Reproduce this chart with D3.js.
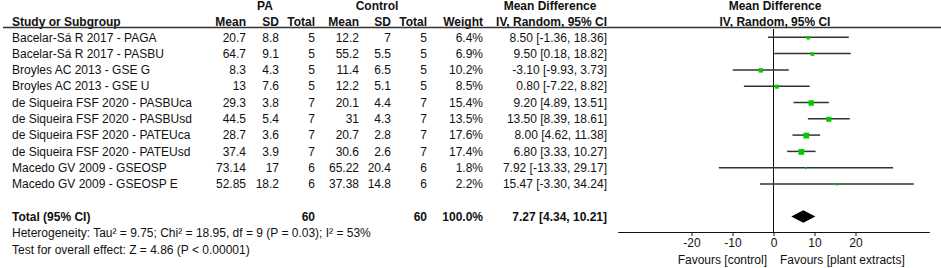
<!DOCTYPE html>
<html>
<head>
<meta charset="utf-8">
<script src="https://cdn.jsdelivr.net/npm/d3@7"></script>
<style>
  body { margin: 0; background: #fff; }
  svg text { font-family: "Liberation Sans", Arial, sans-serif; font-size: 12px; fill: #111; }
  .b { font-weight: bold; }
</style>
</head>
<body>
<div class="container"></div>
<script>
// chart size
const width = 941;
const height = 268;

// data
const studies = [
  "Bacelar-Sá R 2017 - PAGA",
  "Bacelar-Sá R 2017 - PASBU",
  "Broyles AC 2013 - GSE G",
  "Broyles AC 2013 - GSE U",
  "de Siqueira FSF 2020 - PASBUca",
  "de Siqueira FSF 2020 - PASBUsd",
  "de Siqueira FSF 2020 - PATEUca",
  "de Siqueira FSF 2020 - PATEUsd",
  "Macedo GV 2009 - GSEOSP",
  "Macedo GV 2009 - GSEOSP E"
];
const paMean = [20.7, 64.7, 8.3, 13, 29.3, 44.5, 28.7, 37.4, 73.14, 52.85];
const paSD = [8.8, 9.1, 4.3, 7.6, 3.8, 5.4, 3.6, 3.9, 17, 18.2];
const paN = [5, 5, 5, 5, 7, 7, 7, 7, 6, 6];
const ctlMean = [12.2, 55.2, 11.4, 12.2, 20.1, 31, 20.7, 30.6, 65.22, 37.38];
const ctlSD = [7, 5.5, 6.5, 5.1, 4.4, 4.3, 2.8, 2.6, 20.4, 14.8];
const ctlN = [5, 5, 5, 5, 7, 7, 7, 7, 6, 6];
const weight = [6.4, 6.9, 10.2, 8.5, 15.4, 13.5, 17.6, 17.4, 1.8, 2.2];
const md = [8.50, 9.50, -3.10, 0.80, 9.20, 13.50, 8.00, 6.80, 7.92, 15.47];
const ciLow = [-1.36, 0.18, -9.93, -7.22, 4.89, 8.39, 4.62, 3.33, -13.33, -3.30];
const ciHigh = [18.36, 18.82, 3.73, 8.82, 13.51, 18.61, 11.38, 10.27, 29.17, 34.24];
const totalN = [60, 60];
const totalWeight = 100.0;
const totalEffect = [7.27, 4.34, 10.21]; // estimate, low, high
const xTicks = [-20, -10, 0, 10, 20];
const heterogeneity = "Heterogeneity: Tau² = 9.75; Chi² = 18.95, df = 9 (P = 0.03); I² = 53%";
const overallTest = "Test for overall effect: Z = 4.86 (P < 0.00001)";

const svg = d3.select(".container")
  .append("svg")
  .attr("width", width)
  .attr("height", height)
  .style("display", "block");

svg.append("rect").attr("width", width).attr("height", height).attr("fill", "#fff");

// row positions
const yScale = d3.scalePoint()
  .domain(d3.range(studies.length))
  .range([37.3, 184]);
const yTotal = 216.5;
const base = 4.2; // shift from row centre to text baseline

// forest scale
const xScale = d3.scaleLinear()
  .domain([-38, 38])
  .range([617.7, 929.3]);
const axisY = 232;

// square size from weight
const sizeScale = d3.scaleSqrt()
  .domain([0, d3.max(weight)])
  .range([0, 5.8]);

// column right edges
const cols = [
  { x: 246, vals: paMean, head: "Mean" },
  { x: 279, vals: paSD, head: "SD" },
  { x: 315, vals: paN, head: "Total" },
  { x: 359, vals: ctlMean, head: "Mean" },
  { x: 391, vals: ctlSD, head: "SD" },
  { x: 427, vals: ctlN, head: "Total" },
  { x: 483, vals: weight.map(w => w.toFixed(1) + "%"), head: "Weight" },
  { x: 607, vals: md.map((d, i) => `${d.toFixed(2)} [${ciLow[i].toFixed(2)}, ${ciHigh[i].toFixed(2)}]`), head: "IV, Random, 95% CI" }
];

// top header line
svg.append("text").attr("class", "b").attr("x", 265).attr("y", 10).attr("text-anchor", "middle").text("PA");
svg.append("text").attr("class", "b").attr("x", 377).attr("y", 10).attr("text-anchor", "middle").text("Control");
svg.append("text").attr("class", "b").attr("x", 550).attr("y", 10).attr("text-anchor", "middle").text("Mean Difference");
svg.append("text").attr("class", "b").attr("x", 775).attr("y", 10).attr("text-anchor", "middle").text("Mean Difference");

// second header line
svg.append("text").attr("class", "b").attr("x", 12).attr("y", 26).text("Study or Subgroup");
cols.forEach(c => {
  svg.append("text").attr("class", "b").attr("x", c.x).attr("y", 26)
    .attr("text-anchor", "end").text(c.head);
});
svg.append("text").attr("class", "b").attr("x", 775).attr("y", 26).attr("text-anchor", "middle").text("IV, Random, 95% CI");

svg.append("line")
  .attr("x1", 3).attr("x2", width)
  .attr("y1", 27.5).attr("y2", 27.5)
  .attr("stroke", "#333").attr("stroke-width", 1.3);

// study rows
svg.append("g")
  .selectAll("text")
  .data(studies)
  .join("text")
  .attr("x", 12)
  .attr("y", (d, i) => yScale(i) + base)
  .text(d => d);

cols.forEach(c => {
  svg.append("g")
    .selectAll("text")
    .data(c.vals)
    .join("text")
    .attr("x", c.x)
    .attr("y", (d, i) => yScale(i) + base)
    .attr("text-anchor", "end")
    .text(d => d);
});

// total row
svg.append("text").attr("class", "b").attr("x", 12).attr("y", yTotal + base).text("Total (95% CI)");
svg.append("text").attr("class", "b").attr("x", cols[2].x).attr("y", yTotal + base).attr("text-anchor", "end").text(totalN[0]);
svg.append("text").attr("class", "b").attr("x", cols[5].x).attr("y", yTotal + base).attr("text-anchor", "end").text(totalN[1]);
svg.append("text").attr("class", "b").attr("x", cols[6].x).attr("y", yTotal + base).attr("text-anchor", "end")
  .text(totalWeight.toFixed(1) + "%");
svg.append("text").attr("class", "b").attr("x", cols[7].x).attr("y", yTotal + base).attr("text-anchor", "end")
  .text(`${totalEffect[0].toFixed(2)} [${totalEffect[1].toFixed(2)}, ${totalEffect[2].toFixed(2)}]`);

svg.append("text").attr("x", 12).attr("y", 233 + base).text(heterogeneity);
svg.append("text").attr("x", 12).attr("y", 250 + base).text(overallTest);

// zero line
svg.append("line")
  .attr("x1", xScale(0)).attr("x2", xScale(0))
  .attr("y1", 29).attr("y2", axisY)
  .attr("stroke", "#111").attr("stroke-width", 1);

// confidence intervals
svg.append("g")
  .selectAll("line")
  .data(md)
  .join("line")
  .attr("x1", (d, i) => xScale(ciLow[i]))
  .attr("x2", (d, i) => xScale(ciHigh[i]))
  .attr("y1", (d, i) => yScale(i))
  .attr("y2", (d, i) => yScale(i))
  .attr("stroke", "#333")
  .attr("stroke-width", 1.5);

// weight squares
svg.append("g")
  .selectAll("rect")
  .data(md)
  .join("rect")
  .attr("x", (d, i) => xScale(d) - sizeScale(weight[i]) / 2)
  .attr("y", (d, i) => yScale(i) - sizeScale(weight[i]) / 2 + 0.5)
  .attr("width", (d, i) => sizeScale(weight[i]))
  .attr("height", (d, i) => sizeScale(weight[i]))
  .attr("fill", "#00cc00");

// pooled diamond
const dh = 6.3;
svg.append("path")
  .attr("d", `M${xScale(totalEffect[1])},${yTotal} L${xScale(totalEffect[0])},${yTotal - dh} L${xScale(totalEffect[2])},${yTotal} L${xScale(totalEffect[0])},${yTotal + dh} Z`)
  .attr("fill", "#000");

// x axis
const xAxis = d3.axisBottom(xScale)
  .tickValues(xTicks)
  .tickFormat(d => String(d))
  .tickSize(4)
  .tickPadding(2)
  .tickSizeOuter(0);

const axisG = svg.append("g")
  .attr("transform", `translate(0, ${axisY})`)
  .call(xAxis);
axisG.select(".domain").attr("stroke", "#111").attr("stroke-width", 1);
axisG.selectAll(".tick line").attr("stroke", "#111");
axisG.selectAll(".tick text")
  .attr("font-family", "Liberation Sans, Arial, sans-serif")
  .attr("font-size", 12)
  .attr("fill", "#111");

svg.append("text").attr("x", 767).attr("y", 260 + base).attr("text-anchor", "end").text("Favours [control]");
svg.append("text").attr("x", 780).attr("y", 260 + base).text("Favours [plant extracts]");
</script>
</body>
</html>
